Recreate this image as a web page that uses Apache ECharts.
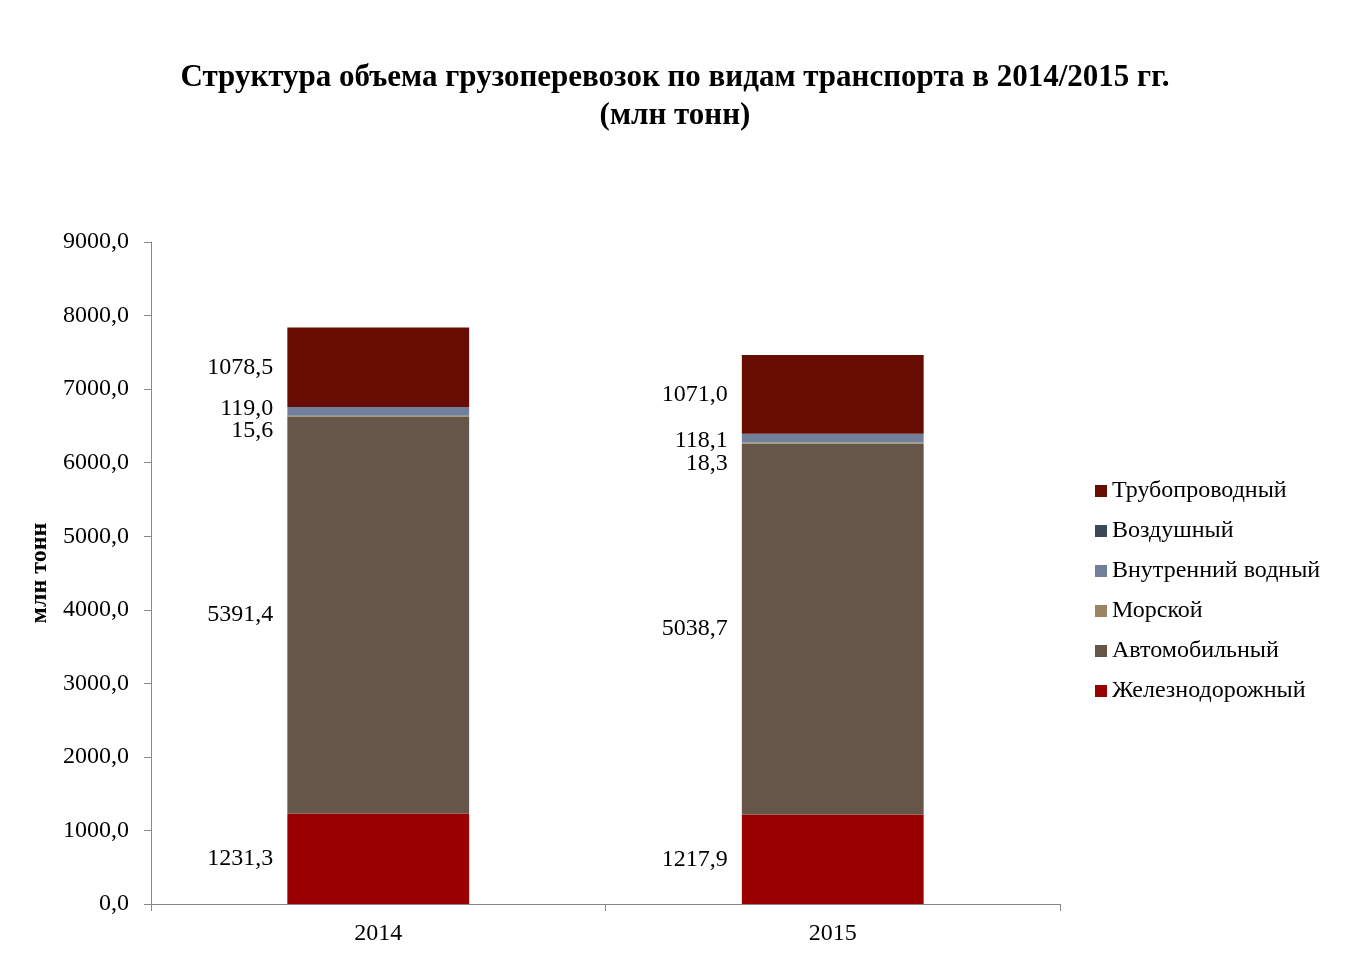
<!DOCTYPE html>
<html>
<head>
<meta charset="utf-8">
<script src="https://cdn.jsdelivr.net/npm/echarts@6/dist/echarts.min.js"></script>
<style>html,body{margin:0;padding:0;background:#fff}#c{width:1350px;height:960px}</style>
</head>
<body>
<div id="c"></div>
<script>
const categories = ['2014', '2015'];
const rail = [1231.3, 1217.9];
const auto = [5391.4, 5038.7];
const sea = [15.6, 18.3];
const inland = [119.0, 118.1];
const air = [1.0, 1.0];
const pipeline = [1078.5, 1071.0];
const yTicks = [0, 1000, 2000, 3000, 4000, 5000, 6000, 7000, 8000, 9000];

const FONT = '"Liberation Serif", "Times New Roman", serif';
const fmt = v => v.toFixed(1).replace('.', ',');

function mk(name, values, color, showLabel, offsets) {
  return {
    name: name,
    type: 'bar',
    stack: 'total',
    barWidth: '40%',
    itemStyle: { color: color },
    data: values.map((v, i) => ({
      value: v,
      label: offsets ? { offset: [0, offsets[i]] } : undefined
    })),
    label: {
      show: showLabel,
      position: 'left',
      distance: 14,
      color: '#000',
      fontFamily: FONT,
      fontSize: 24,
      formatter: p => fmt(p.value)
    },
    emphasis: { disabled: true }
  };
}

const chart = echarts.init(document.getElementById('c'));
chart.setOption({
  animation: false,
  backgroundColor: '#fff',
  title: {
    text: 'Структура объема грузоперевозок по видам транспорта в 2014/2015 гг.\n(млн тонн)',
    left: 'center',
    top: 54,
    textStyle: { fontFamily: FONT, fontSize: 31, fontWeight: 'bold', color: '#000', lineHeight: 38 }
  },
  legend: {
    orient: 'vertical',
    left: 1090,
    top: 474,
    itemWidth: 12,
    itemHeight: 12,
    itemGap: 16,
    icon: 'rect',
    data: ['Трубопроводный', 'Воздушный', 'Внутренний водный', 'Морской', 'Автомобильный', 'Железнодорожный'],
    textStyle: { fontFamily: FONT, fontSize: 24, color: '#000' }
  },
  grid: { left: 151, right: 290, top: 242, bottom: 56, containLabel: false },
  xAxis: {
    type: 'category',
    data: categories,
    axisLine: { lineStyle: { color: '#888' } },
    axisTick: { show: true, length: 7, lineStyle: { color: '#888' } },
    axisLabel: { color: '#000', fontFamily: FONT, fontSize: 24, margin: 18 }
  },
  yAxis: {
    type: 'value',
    min: yTicks[0],
    max: yTicks[yTicks.length - 1],
    interval: 1000,
    name: 'млн тонн',
    nameLocation: 'middle',
    nameGap: 98,
    nameTextStyle: { fontFamily: FONT, fontSize: 24, fontWeight: 'bold', color: '#000' },
    axisLine: { show: true, lineStyle: { color: '#888' } },
    axisTick: { show: true, length: 7, lineStyle: { color: '#888' } },
    splitLine: { show: false },
    axisLabel: { color: '#000', fontFamily: FONT, fontSize: 24, margin: 22, formatter: v => fmt(v) }
  },
  series: [
    mk('Железнодорожный', rail, '#990000', true),
    mk('Автомобильный', auto, '#665549', true),
    mk('Морской', sea, '#9b8463', true, [14, 21]),
    mk('Внутренний водный', inland, '#727f99', true, [-3, 3]),
    mk('Воздушный', air, '#3b4856', false),
    mk('Трубопроводный', pipeline, '#660c00', true)
  ]
});
</script>
</body>
</html>
